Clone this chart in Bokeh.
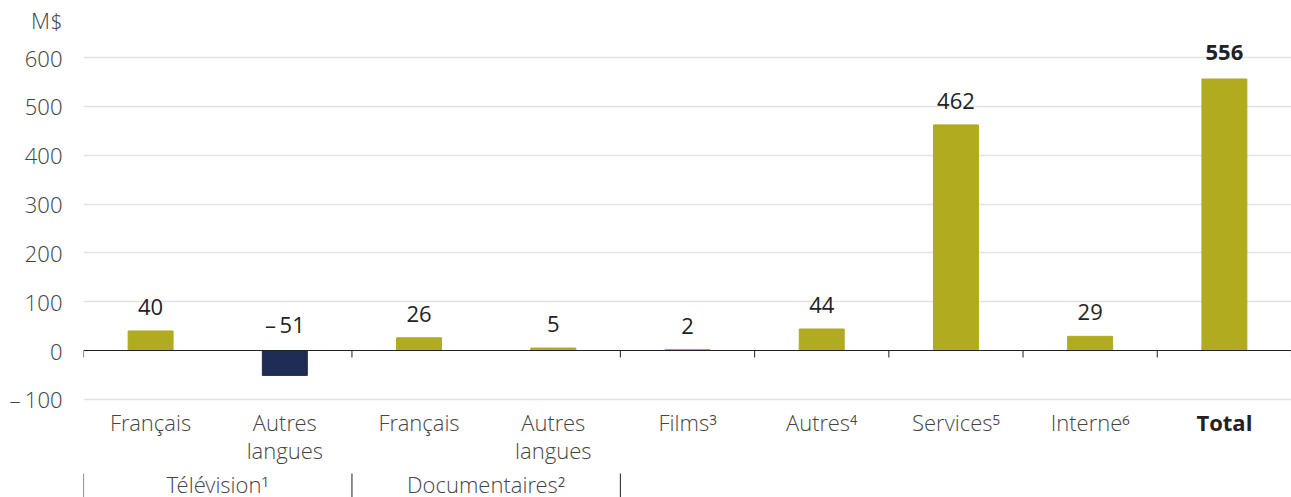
from bokeh.plotting import figure
from bokeh.models import Range1d, FixedTicker, ColumnDataSource, Span
from bokeh.core.properties import value
from bokeh.embed import file_html
from bokeh.resources import INLINE

# ---- data ----
cat_line1 = ["Français", "Autres", "Français", "Autres", "Films³", "Autres⁴", "Services⁵", "Interne⁶", "Total"]
cat_line2 = ["", "langues", "", "langues", "", "", "", "", ""]
values = [40, -51, 26, 5, 2, 44, 462, 29, 556]
value_labels = ["40", "–\u200951", "26", "5", "2", "44", "462", "29", "556"]
groups = ["Télévision¹", "Documentaires²"]
group_spans = [(0, 2), (2, 4)]
boundaries = [0, 2, 4, 5, 6, 7, 8, 9]
y_ticks = [-100, 0, 100, 200, 300, 400, 500, 600]
unit_label = "M$"

OLIVE = "#B0AB1F"
NAVY = "#1F2D55"
LIGHT = "'Open Sans Light', 'Open Sans'"
REG = "Open Sans"
FS = "22px"

# ---- geometry ----
W, H = 1291, 497
LEFT = 83
CAT_PX = (W - LEFT) / 9.0   # px per category
K = 600 / 293.0             # data units per px (vertical)
ZERO_PX = 350               # zero line, px from top of figure
x_end = (W - LEFT) / CAT_PX
y_top = ZERO_PX * K
y_bot = -(H - ZERO_PX) * K
unit_y = round(330 * K)     # unit caption sits 330 px above zero

p = figure(width=W, height=H, output_backend="svg", toolbar_location=None,
           x_range=Range1d(0, x_end), y_range=Range1d(y_bot, y_top),
           min_border_left=LEFT, min_border_right=0, min_border_top=0, min_border_bottom=0)
p.outline_line_color = None
p.background_fill_color = "white"
p.xaxis.visible = False
p.xgrid.visible = False

ya = p.yaxis[0]
ya.ticker = FixedTicker(ticks=y_ticks + [unit_y])
ya.major_label_overrides = {-100: "–\u2009100", unit_y: unit_label}
ya.major_label_text_font = LIGHT
ya.major_label_text_font_size = FS
ya.major_label_text_color = "#444444"
ya.major_tick_line_color = None
ya.minor_tick_line_color = None
ya.major_tick_out = 0
ya.axis_line_color = None
ya.major_label_standoff = 21

p.ygrid.ticker = FixedTicker(ticks=[t for t in y_ticks if t != 0])
p.ygrid.grid_line_color = "#e2e2e2"
p.ygrid.grid_line_width = 1.5

xs = [i + 0.5 for i in range(len(values))]
colors = [OLIVE if v >= 0 else NAVY for v in values]
is_total = [c == "Total" for c in cat_line1]
src = ColumnDataSource(dict(x=xs, top=values, color=colors, l2=cat_line2))
reg = ColumnDataSource(dict(x=[x for x, t in zip(xs, is_total) if not t],
                            ly=[max(v, 0) for v, t in zip(values, is_total) if not t],
                            lab=[l for l, t in zip(value_labels, is_total) if not t],
                            yoff=[(-24 if v >= 0 else -27) for v, t in zip(values, is_total) if not t],
                            l1=[c for c, t in zip(cat_line1, is_total) if not t]))
tot = ColumnDataSource(dict(x=[x for x, t in zip(xs, is_total) if t],
                            ly=[max(v, 0) for v, t in zip(values, is_total) if t],
                            lab=[l for l, t in zip(value_labels, is_total) if t],
                            l1=[c for c, t in zip(cat_line1, is_total) if t]))

p.vbar(x="x", top="top", bottom=0, width=0.335, color="color", source=src)

# zero line
p.add_layout(Span(location=0, dimension="width", line_color="#222222", line_width=1.2))

# boundary ticks
p.segment(x0=boundaries, x1=boundaries, y0=[0] * len(boundaries), y1=[-7 * K] * len(boundaries),
          line_color="#333333", line_width=1.1)

# value labels
p.text(x="x", y="ly", text="lab", source=reg, y_offset="yoff",
       text_align="center", text_baseline="middle",
       text_font=value(REG), text_font_size=FS, text_color="#222222")
p.text(x="x", y="ly", text="lab", source=tot, y_offset=-26,
       text_align="center", text_baseline="middle",
       text_font=value(REG), text_font_style="bold",
       text_font_size=FS, text_color="#222222")

# category labels
p.text(x="x", y=0, text="l1", source=reg, y_offset=71,
       text_align="center", text_baseline="middle",
       text_font=value(LIGHT), text_font_size=FS, text_color="#444444")
p.text(x="x", y=0, text="l1", source=tot, y_offset=71,
       text_align="center", text_baseline="middle",
       text_font=value(REG), text_font_style="bold",
       text_font_size=FS, text_color="#222222")
p.text(x="x", y=0, text="l2", source=src, y_offset=99,
       text_align="center", text_baseline="middle",
       text_font=value(LIGHT), text_font_size=FS, text_color="#444444")

# group labels and separators
gx = [(a + b) / 2 for a, b in group_spans]
p.text(x=gx, y=[0] * len(gx), text=groups, y_offset=133,
       text_align="center", text_baseline="middle",
       text_font=value(LIGHT), text_font_size=FS, text_color="#444444")
seps = sorted(set([a for a, b in group_spans] + [b for a, b in group_spans]))
p.segment(x0=seps, x1=seps, y0=[-123 * K] * len(seps), y1=[y_bot] * len(seps),
          line_color="#333333", line_width=1.1)

open("out.html", "w").write(file_html(p, INLINE))
